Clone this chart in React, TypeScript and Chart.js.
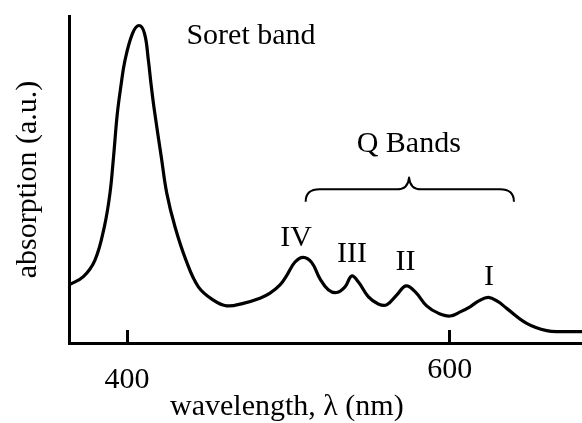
import React, { useEffect, useRef } from "react";
import { Chart, registerables } from "chart.js";

Chart.register(...registerables);

// Spectrum samples (wavelength in nm, absorption in a.u., Soret peak = 1)
const WAVELENGTHS = [
  364, 372.9, 380.1, 385.9, 389.4, 391.5, 393.9, 396.2, 398.7, 403.4, 407.4,
  410.8, 413.2, 414.8, 416.9, 421.3, 424.6, 429.7, 436.5, 444.2, 453.5, 461.8,
  472, 482.4, 488.6, 494.8, 499.0, 504.1, 509.2, 514.4, 519.6, 524.7, 529.9, 535.1,
  539.2, 543.3, 549.5, 555.7, 560.9, 567.1, 572.9, 578.5, 585.7, 592.9, 600.2, 606.5,
  612.6, 617.8, 624.0, 630.0, 635.3, 647.7, 660.1, 670, 682,
];
const ABSORPTION = [
  0.183, 0.209, 0.261, 0.366, 0.472, 0.58, 0.72, 0.81, 0.89, 0.975, 1.0,
  0.975, 0.891, 0.818, 0.734, 0.583, 0.472, 0.366, 0.261, 0.177, 0.135, 0.117,
  0.125, 0.141, 0.157, 0.183, 0.213, 0.255, 0.27, 0.254, 0.202, 0.168, 0.159, 0.177,
  0.211, 0.193, 0.146, 0.123, 0.12, 0.151, 0.18, 0.162, 0.117, 0.094, 0.085, 0.098,
  0.114, 0.132, 0.144, 0.13, 0.109, 0.062, 0.039, 0.036, 0.036,
];

// Axis ticks
const X_TICKS = [400, 600];
const X_MIN = 364;
const X_MAX = 682;
const Y_MAX = 1.03;

// Annotations (anchored in data coordinates)
const LABEL_TEXTS = ["Soret band", "Q Bands", "IV", "III", "II", "I"];
const LABEL_X = [476.8, 574.6, 504.7, 539.4, 572.6, 624.4];
const LABEL_Y = [0.942, 0.603, 0.306, 0.255, 0.23, 0.183];

// Brace over the Q bands: start, middle, end wavelength
const BRACE_X = [510.7, 574.8, 639.8];
// Brace levels: ends, bar, tip
const BRACE_Y = [0.445, 0.484, 0.521];

const X_TITLE = "wavelength, \u03bb (nm)";
const Y_TITLE = "absorption (a.u.)";

const FONT = '30px "Liberation Serif", "Times New Roman", serif';

const annotationPlugin = {
  id: "spectrumAnnotations",
  afterDraw(chart: any) {
    const { ctx, chartArea } = chart;
    const xs = chart.scales.x;
    const ys = chart.scales.y;
    ctx.save();
    ctx.fillStyle = "#000";
    ctx.strokeStyle = "#000";
    ctx.font = FONT;
    ctx.textAlign = "center";
    ctx.textBaseline = "alphabetic";

    LABEL_TEXTS.forEach((t, i) => {
      ctx.fillText(t, xs.getPixelForValue(LABEL_X[i]), ys.getPixelForValue(LABEL_Y[i]));
    });

    // inward tick marks and tick labels
    X_TICKS.forEach((v, i) => {
      const raw = xs.getPixelForValue(v);
      const px = Math.round(raw - 1.5) + 1.5;
      ctx.lineWidth = 3;
      ctx.beginPath();
      ctx.moveTo(px, chartArea.bottom);
      ctx.lineTo(px, chartArea.bottom - 13);
      ctx.stroke();
      ctx.fillText(String(v), raw, chartArea.bottom + (i === 0 ? 45 : 35));
    });

    // brace
    const x0 = xs.getPixelForValue(BRACE_X[0]);
    const xm = xs.getPixelForValue(BRACE_X[1]);
    const x1 = xs.getPixelForValue(BRACE_X[2]);
    const ye = ys.getPixelForValue(BRACE_Y[0]);
    const yh = ys.getPixelForValue(BRACE_Y[1]);
    const yt = ys.getPixelForValue(BRACE_Y[2]);
    ctx.lineWidth = 2;
    ctx.lineJoin = "round";
    ctx.beginPath();
    ctx.moveTo(x0, ye);
    ctx.quadraticCurveTo(x0, yh, x0 + 14, yh);
    ctx.lineTo(xm - 12, yh);
    ctx.quadraticCurveTo(xm - 1, yh, xm, yt);
    ctx.quadraticCurveTo(xm + 1, yh, xm + 12, yh);
    ctx.lineTo(x1 - 14, yh);
    ctx.quadraticCurveTo(x1, yh, x1, ye);
    ctx.stroke();

    // axis titles
    ctx.textAlign = "left";
    ctx.fillText(X_TITLE, chartArea.left + 101, chartArea.bottom + 72);
    ctx.save();
    ctx.translate(36, (chartArea.top + chartArea.bottom) / 2);
    ctx.rotate(-Math.PI / 2);
    ctx.textAlign = "center";
    ctx.fillText(Y_TITLE, 0, 0);
    ctx.restore();

    ctx.restore();
  },
};

export default function App() {
  const canvasRef = useRef<HTMLCanvasElement | null>(null);

  useEffect(() => {
    const canvas = canvasRef.current;
    if (!canvas) return;
    const points = WAVELENGTHS.map((w, i) => ({ x: w, y: ABSORPTION[i] }));
    const chart = new Chart(canvas, {
      type: "line",
      data: {
        datasets: [
          {
            data: points,
            borderColor: "#000",
            borderWidth: 3.2,
            pointRadius: 0,
            fill: false,
            tension: 0.4,
            borderCapStyle: "round",
            borderJoinStyle: "round",
          },
        ],
      },
      options: {
        responsive: false,
        animation: false,
        devicePixelRatio: 1,
        layout: { padding: { left: 69, top: 16, right: 0, bottom: 80 } },
        plugins: {
          legend: { display: false },
          tooltip: { enabled: false },
          title: { display: false },
        },
        scales: {
          x: {
            type: "linear",
            min: X_MIN,
            max: X_MAX,
            grid: { display: false, drawTicks: false },
            border: { display: true, color: "#000", width: 3 },
            ticks: { display: false },
            title: { display: false },
          },
          y: {
            type: "linear",
            min: 0,
            max: Y_MAX,
            grid: { display: false, drawTicks: false },
            border: { display: true, color: "#000", width: 3 },
            ticks: { display: false },
            title: { display: false },
          },
        },
      },
      plugins: [annotationPlugin],
    } as any);
    return () => chart.destroy();
  }, []);

  return (
    <div style={{ position: "fixed", left: 0, top: 0, width: 582, height: 423, background: "#fff" }}>
      <canvas ref={canvasRef} width={582} height={423} style={{ width: 582, height: 423, display: "block" }} />
    </div>
  );
}
